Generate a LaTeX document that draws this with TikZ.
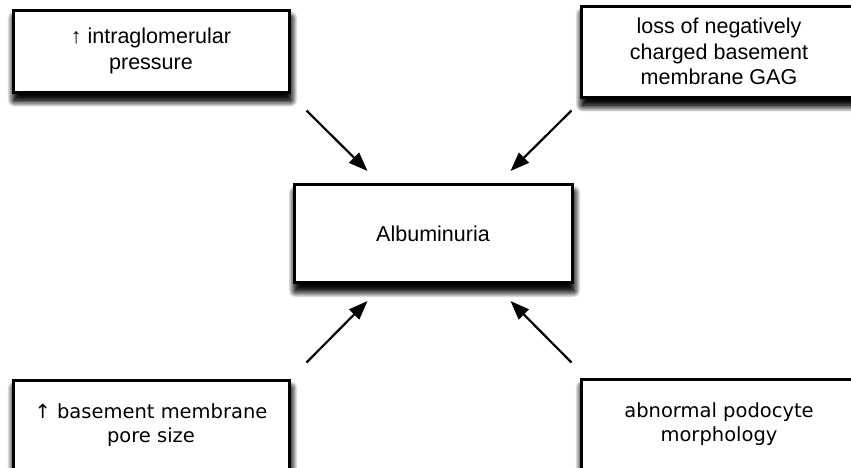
\documentclass[tikz,border=0pt]{standalone}
\usepackage{fontspec}
\setmainfont{Liberation Sans}
\newfontfamily\lucida{DejaVu Sans}
\usetikzlibrary{shadows.blur,arrows.meta,calc}
\tikzset{myshadow/.style={blur shadow={shadow xshift=1.5pt, shadow yshift=-8pt, shadow blur radius=7pt, shadow opacity=100, shadow blur steps=12}}}
\begin{document}
\begin{tikzpicture}[x=1pt,y=-1pt,
  box/.style={draw=black, line width=3pt, fill=white, align=center,
    inner sep=0pt, font=\fontsize{21.5}{25.5}\selectfont, myshadow, myshadow},
  lbox/.style={box, font=\lucida\fontsize{19.5}{24}\selectfont},
  arr/.style={line width=2.2pt, -{Triangle[length=19pt,width=14pt]}}]
\useasboundingbox (0,0) rectangle (851,467);
\clip (0,0) rectangle (851,467);
\node[box, minimum width=276pt, minimum height=82pt] (tl) at (151,51) {↑ intraglomerular\\pressure};
\node[box, minimum width=276pt, minimum height=91pt] (tr) at (719,51.5) {loss of negatively\\charged basement\\membrane GAG};
\node[box, minimum width=278pt, minimum height=98pt] (ctr) at (433,233.5) {Albuminuria};
\node[lbox, minimum width=276pt, minimum height=90pt] (bl) at (151,425) {↑ basement membrane\\pore size};
\node[lbox, minimum width=276pt, minimum height=90pt] (br) at (719,424) {abnormal podocyte\\morphology};
\draw[arr] ($(tl.south east)+(16,17)$) -- ($(ctr.north west)+(75,-12)$);
\draw[arr] ($(tr.south west)+(-8,12)$) -- ($(ctr.north east)+(-63,-12)$);
\draw[arr] ($(bl.north east)+(16,-16)$) -- ($(ctr.south west)+(75,17)$);
\draw[arr] ($(br.north west)+(-8,-15)$) -- ($(ctr.south east)+(-63,17)$);
\end{tikzpicture}
\end{document}
